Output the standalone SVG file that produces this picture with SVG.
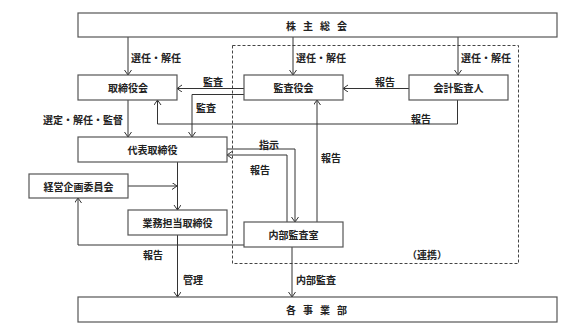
<svg xmlns="http://www.w3.org/2000/svg" width="580" height="334" viewBox="0 0 580 334">
<defs>
<style>
rect.box{fill:#fff;stroke:#555;stroke-width:1.2}
text{font-family:"Noto Sans CJK JP","Noto Sans CJK SC",sans-serif;font-weight:bold;font-size:10px;fill:#222}
text.c{text-anchor:middle;dominant-baseline:central}
text.l{dominant-baseline:central}
text.w{letter-spacing:7px}
.conn path,.conn line{fill:none;stroke:#333;stroke-width:1}
.dash{fill:none;stroke:#444;stroke-width:1;stroke-dasharray:3,2}
</style>
<marker id="a" markerUnits="userSpaceOnUse" markerWidth="8" markerHeight="8" refX="5.5" refY="3.5" orient="auto">
<path d="M0.5,0 L5.5,3.5 L0.5,7" fill="none" stroke="#333" stroke-width="1"/>
</marker>
</defs>
<rect x="0" y="0" width="580" height="334" fill="#fff"/>
<rect class="dash" x="232.5" y="45.5" width="286" height="218"/>
<g class="conn">
<line x1="128" y1="37" x2="128" y2="75" marker-end="url(#a)"/>
<line x1="293" y1="37" x2="293" y2="75" marker-end="url(#a)"/>
<line x1="458" y1="37" x2="458" y2="75" marker-end="url(#a)"/>
<line x1="244" y1="88.5" x2="177" y2="88.5" marker-end="url(#a)"/>
<path d="M244,94.5 H192 V137" marker-end="url(#a)"/>
<line x1="409" y1="88.5" x2="343" y2="88.5" marker-end="url(#a)"/>
<path d="M457.5,100 V124 H157.5 V100" marker-end="url(#a)"/>
<line x1="128" y1="100" x2="128" y2="137" marker-end="url(#a)"/>
<path d="M227,149 H295 V222" marker-end="url(#a)"/>
<path d="M287,222 V155 H227" marker-end="url(#a)"/>
<line x1="317" y1="222" x2="317" y2="100" marker-end="url(#a)"/>
<line x1="177.5" y1="162" x2="177.5" y2="210" marker-end="url(#a)"/>
<line x1="128" y1="186" x2="177" y2="186" marker-end="url(#a)"/>
<path d="M244,245 H78 V198" marker-end="url(#a)"/>
<line x1="177.5" y1="235" x2="177.5" y2="297" marker-end="url(#a)"/>
<line x1="292" y1="247" x2="292" y2="297" marker-end="url(#a)"/>
</g>
<g id="n-shareholders"><rect class="box" x="78" y="13" width="479" height="24"/><text class="c w" x="320" y="25">株主総会</text></g>
<g id="n-board"><rect class="box" x="78" y="75" width="99" height="25"/><text class="c" x="128" y="87.5">取締役会</text></g>
<g id="n-auditors"><rect class="box" x="244" y="75" width="99" height="25"/><text class="c" x="293.5" y="87.5">監査役会</text></g>
<g id="n-accountant"><rect class="box" x="409" y="75" width="99" height="25"/><text class="c" x="458.5" y="87.5">会計監査人</text></g>
<g id="n-ceo"><rect class="box" x="78" y="137" width="149" height="25"/><text class="c" x="152.5" y="149.5">代表取締役</text></g>
<g id="n-planning"><rect class="box" x="29" y="174" width="99" height="24"/><text class="c" x="78.5" y="186">経営企画委員会</text></g>
<g id="n-exec"><rect class="box" x="128" y="210" width="99" height="25"/><text class="c" x="177.5" y="222.5">業務担当取締役</text></g>
<g id="n-internal"><rect class="box" x="244" y="222" width="99" height="25"/><text class="c" x="293.5" y="234.5">内部監査室</text></g>
<g id="n-divisions"><rect class="box" x="78" y="297" width="479" height="25"/><text class="c w" x="320" y="309.5">各事業部</text></g>
<g id="labels">
<text class="l" x="131" y="57">選任・解任</text>
<text class="l" x="296" y="57">選任・解任</text>
<text class="l" x="461" y="57">選任・解任</text>
<text class="c" x="213" y="81">監査</text>
<text class="c" x="206" y="107">監査</text>
<text class="c" x="385" y="81">報告</text>
<text class="c" x="421" y="118">報告</text>
<text class="l" x="123" y="119" text-anchor="end">選定・解任・監督</text>
<text class="c" x="269" y="144">指示</text>
<text class="c" x="260" y="169">報告</text>
<text class="c" x="331" y="157">報告</text>
<text class="c" x="153" y="254">報告</text>
<text class="c" x="193" y="279">管理</text>
<text class="l" x="296" y="279">内部監査</text>
<text class="c" x="427" y="254">（連携）</text>
</g>
</svg>
